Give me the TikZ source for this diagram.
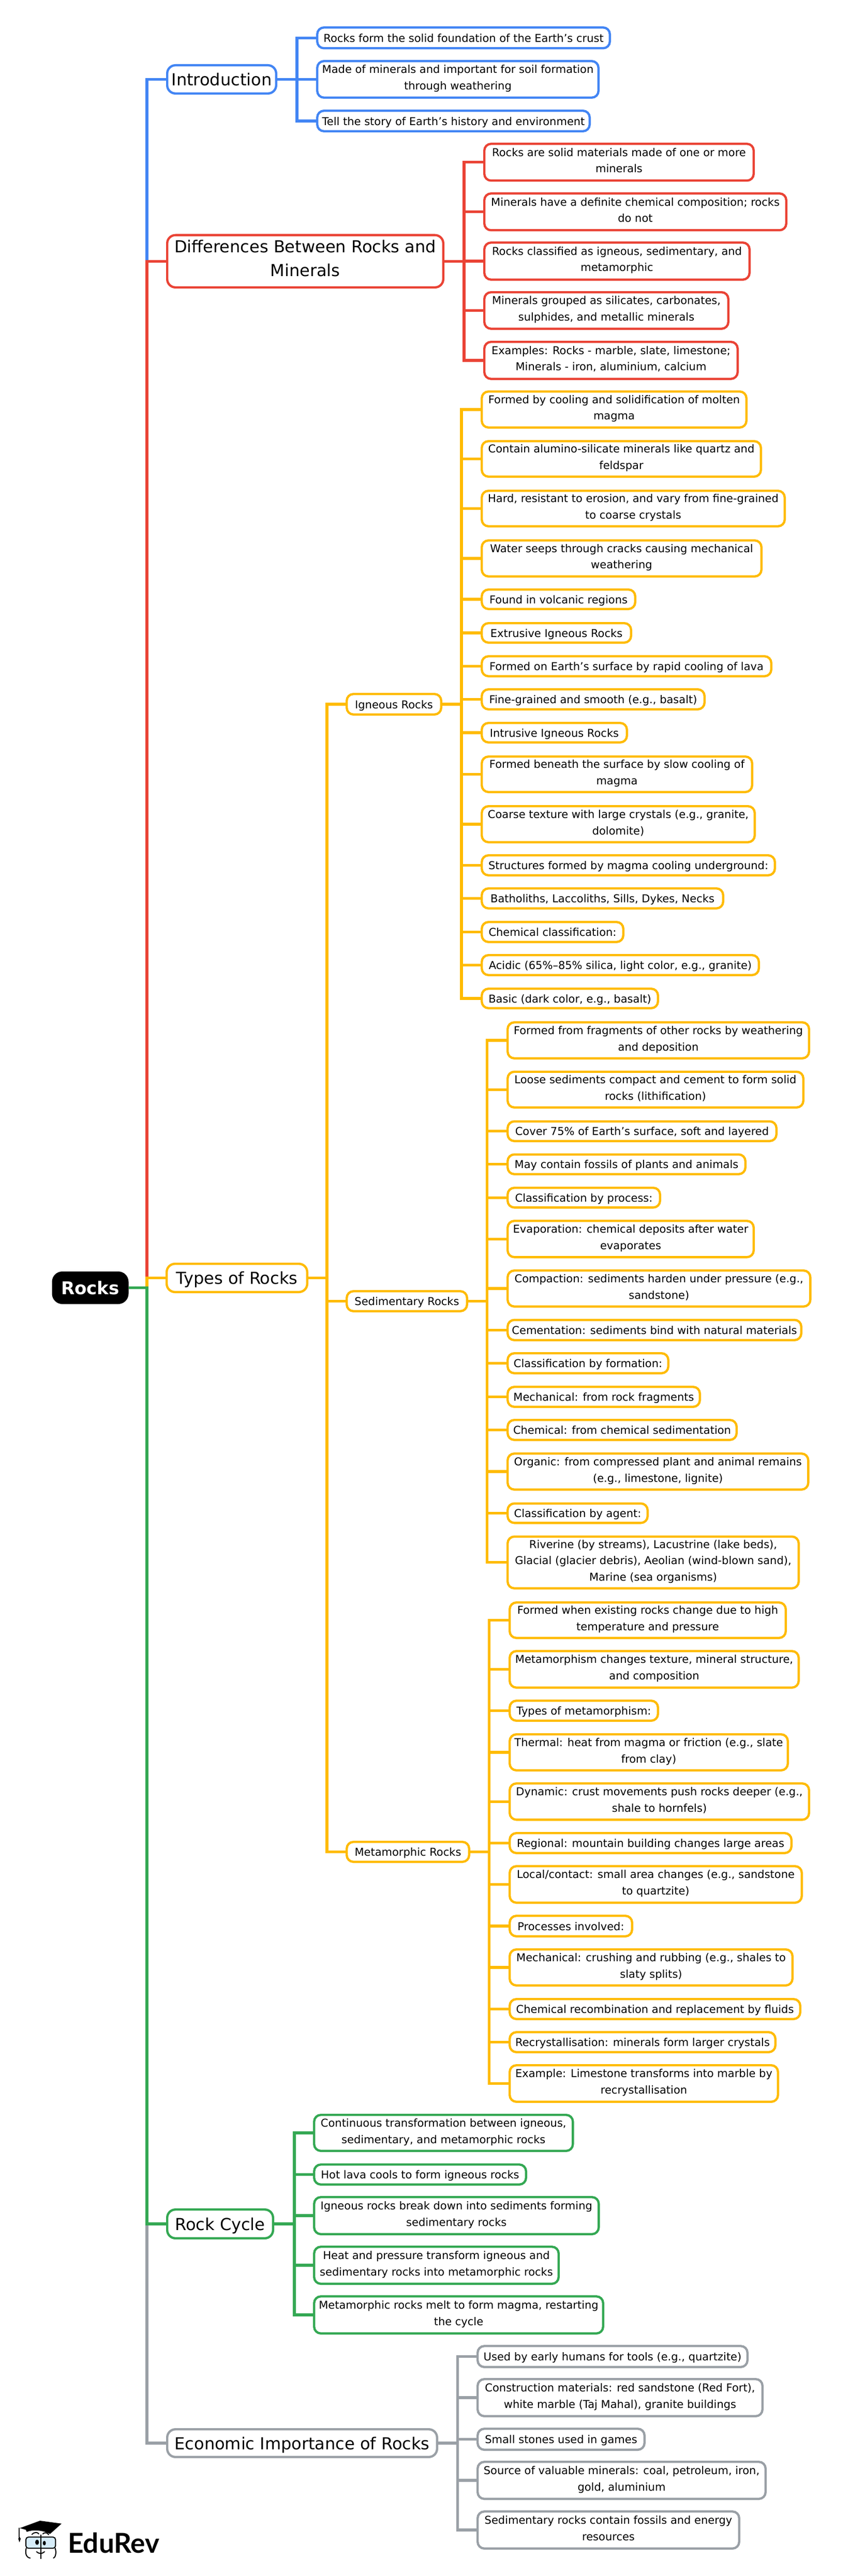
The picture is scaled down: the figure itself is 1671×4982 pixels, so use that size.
\documentclass[tikz,border=0pt]{standalone}
\usepackage{fontspec}
\setmainfont{DejaVu Sans}
\newfontfamily\brandfont{Lato}
\definecolor{cblue}{HTML}{4285F4}
\definecolor{cred}{HTML}{EA4335}
\definecolor{cyel}{HTML}{FFBB00}
\definecolor{cgrn}{HTML}{34A853}
\definecolor{cgry}{HTML}{9AA0A6}
\definecolor{lens}{HTML}{D6ECF8}
\newcommand{\tstrut}{\vrule width 0pt height .76\baselineskip depth .24\baselineskip\relax}
\tikzset{
  bx/.style={draw=#1,line width=2.2pt,rounded corners=6.5pt,fill=white,inner sep=0pt,align=center,
    font=\fontsize{10.5pt}{15.8pt}\selectfont,execute at begin node=\tstrut,execute at end node=\tstrut},
  big/.style={font=\fontsize{16pt}{23pt}\selectfont,rounded corners=8pt},
  cn/.style={draw=#1,line width=2.7pt,line join=miter},
  rootbox/.style={fill=black,text=white,inner sep=0pt,rounded corners=10pt,font=\fontsize{17pt}{23pt}\selectfont\bfseries},
  logoline/.style={draw=black,line width=1pt,line cap=round}
}
% #1 name, #2 x1, #3 y1, #4 x2, #5 y2, #6 colour, #7 extra style, #8 text
\newcommand{\bxn}[8]{%
  \pgfmathsetmacro{\boxw}{(#4-#2-4.4)*0.5}\pgfmathsetmacro{\boxh}{(#5-#3-4.4)*0.5}%
  \node[bx=#6,#7,minimum width=\boxw pt,minimum height=\boxh pt] (#1) at ({(#2+#4)/2},{(#3+#5)/2}) {#8};}
% #1 parent, #2 stem x, #3 colour, #4 children list
\newcommand{\conns}[4]{%
  \foreach \kid in {#4}{\draw[cn=#3] (#1.east) -- (#1.east -| #2,0) |- (\kid.west);}}
\begin{document}
\begin{tikzpicture}[x=0.5pt,y=-0.5pt]
\useasboundingbox[fill=white] (0,0) rectangle (1671,4982);
% level-1 nodes and leaves
\node[rootbox,minimum width=74pt,minimum height=31.5pt] (rocks) at (174.5,2490.5) {Rocks};
\bxn{intro}{321}{124}{536}{183}{cblue}{big}{Introduction}
\bxn{diff}{321}{452.5}{859}{558}{cred}{big}{Differences Between Rocks and\\Minerals}
\bxn{types}{320}{2442}{596}{2501}{cyel}{big}{Types of Rocks}
\bxn{cycle}{321}{4271}{530}{4331}{cgrn}{big}{Rock Cycle}
\bxn{econ}{321}{4696}{847}{4754}{cgry}{big}{Economic Importance of Rocks}
\bxn{ign}{668}{1340}{855}{1384}{cyel}{}{Igneous Rocks}
\bxn{sed}{668}{2495}{905}{2538}{cyel}{}{Sedimentary Rocks}
\bxn{met}{668}{3560}{909}{3603}{cyel}{}{Metamorphic Rocks}
% Introduction
\bxn{i1}{611}{51}{1181}{95.5}{cblue}{}{Rocks form the solid foundation of the Earth’s crust}
\bxn{i2}{611}{116}{1159}{191}{cblue}{}{Made of minerals and important for soil formation\\through weathering}
\bxn{i3}{611}{212}{1142}{256}{cblue}{}{Tell the story of Earth’s history and environment}
% Differences
\bxn{d1}{934}{276}{1459}{351.5}{cred}{}{Rocks are solid materials made of one or more\\minerals}
\bxn{d2}{934}{372}{1522}{447.5}{cred}{}{Minerals have a definite chemical composition; rocks\\do not}
\bxn{d3}{934}{467}{1451}{543}{cred}{}{Rocks classified as igneous, sedimentary, and\\metamorphic}
\bxn{d4}{934}{563}{1410}{638}{cred}{}{Minerals grouped as silicates, carbonates,\\sulphides, and metallic minerals}
\bxn{d5}{934}{659}{1428}{735}{cred}{}{Examples: Rocks - marble, slate, limestone;\\Minerals - iron, aluminium, calcium}
% Igneous
\bxn{g1}{929}{755}{1445}{829}{cyel}{}{Formed by cooling and solidification of molten\\magma}
\bxn{g2}{929}{851}{1473}{924}{cyel}{}{Contain alumino-silicate minerals like quartz and\\feldspar}
\bxn{g3}{929}{947}{1519}{1020}{cyel}{}{Hard, resistant to erosion, and vary from fine-grained\\to coarse crystals}
\bxn{g4}{929}{1043}{1474}{1117}{cyel}{}{Water seeps through cracks causing mechanical\\weathering}
\bxn{g5}{929}{1138}{1230}{1180}{cyel}{}{Found in volcanic regions}
\bxn{g6}{929}{1203}{1222}{1245}{cyel}{}{Extrusive Igneous Rocks}
\bxn{g7}{929}{1267}{1493}{1310}{cyel}{}{Formed on Earth’s surface by rapid cooling of lava}
\bxn{g8}{929}{1331}{1364}{1374}{cyel}{}{Fine-grained and smooth (e.g., basalt)}
\bxn{g9}{929}{1396}{1214}{1438}{cyel}{}{Intrusive Igneous Rocks}
\bxn{g10}{929}{1461}{1456}{1534}{cyel}{}{Formed beneath the surface by slow cooling of\\magma}
\bxn{g11}{929}{1557}{1461}{1631}{cyel}{}{Coarse texture with large crystals (e.g., granite,\\dolomite)}
\bxn{g12}{929}{1652}{1500}{1695}{cyel}{}{Structures formed by magma cooling underground:}
\bxn{g13}{929}{1716}{1400}{1759}{cyel}{}{Batholiths, Laccoliths, Sills, Dykes, Necks}
\bxn{g14}{929}{1781}{1207}{1824}{cyel}{}{Chemical classification:}
\bxn{g15}{929}{1845}{1469}{1888}{cyel}{}{Acidic (65\%–85\% silica, light color, e.g., granite)}
\bxn{g16}{929}{1910}{1274}{1952}{cyel}{}{Basic (dark color, e.g., basalt)}
% Sedimentary
\bxn{s1}{979}{1975}{1566}{2049}{cyel}{}{Formed from fragments of other rocks by weathering\\and deposition}
\bxn{s2}{979}{2070.5}{1555}{2144}{cyel}{}{Loose sediments compact and cement to form solid\\rocks (lithification)}
\bxn{s3}{979}{2166.5}{1503}{2209}{cyel}{}{Cover 75\% of Earth’s surface, soft and layered}
\bxn{s4}{979}{2230.5}{1443}{2273}{cyel}{}{May contain fossils of plants and animals}
\bxn{s5}{979}{2295}{1278}{2337.5}{cyel}{}{Classification by process:}
\bxn{s6}{979}{2359}{1459}{2433.5}{cyel}{}{Evaporation: chemical deposits after water\\evaporates}
\bxn{s7}{979}{2455}{1568.5}{2529}{cyel}{}{Compaction: sediments harden under pressure (e.g.,\\sandstone)}
\bxn{s8}{979}{2550.5}{1551}{2594}{cyel}{}{Cementation: sediments bind with natural materials}
\bxn{s9}{979}{2615}{1294}{2658}{cyel}{}{Classification by formation:}
\bxn{s10}{979}{2680}{1355}{2723}{cyel}{}{Mechanical: from rock fragments}
\bxn{s11}{979}{2744}{1426}{2787}{cyel}{}{Chemical: from chemical sedimentation}
\bxn{s12}{979}{2809}{1564.5}{2883}{cyel}{}{Organic: from compressed plant and animal remains\\(e.g., limestone, lignite)}
\bxn{s13}{979}{2905.5}{1254}{2947.5}{cyel}{}{Classification by agent:}
\bxn{s14}{979}{2969.5}{1546}{3074}{cyel}{}{Riverine (by streams), Lacustrine (lake beds),\\Glacial (glacier debris), Aeolian (wind-blown sand),\\Marine (sea organisms)}
% Metamorphic
\bxn{m1}{983}{3097}{1521}{3170}{cyel}{}{Formed when existing rocks change due to high\\temperature and pressure}
\bxn{m2}{983}{3191}{1546}{3266}{cyel}{}{Metamorphism changes texture, mineral structure,\\and composition}
\bxn{m3}{983}{3287}{1274}{3330}{cyel}{}{Types of metamorphism:}
\bxn{m4}{983}{3352}{1525}{3426}{cyel}{}{Thermal: heat from magma or friction (e.g., slate\\from clay)}
\bxn{m5}{983}{3447}{1566}{3521.5}{cyel}{}{Dynamic: crust movements push rocks deeper (e.g.,\\shale to hornfels)}
\bxn{m6}{983}{3543}{1532}{3586}{cyel}{}{Regional: mountain building changes large areas}
\bxn{m7}{983}{3607}{1552}{3682}{cyel}{}{Local/contact: small area changes (e.g., sandstone\\to quartzite)}
\bxn{m8}{983}{3703}{1224}{3747}{cyel}{}{Processes involved:}
\bxn{m9}{983}{3768}{1534}{3842}{cyel}{}{Mechanical: crushing and rubbing (e.g., shales to\\slaty splits)}
\bxn{m10}{983}{3864}{1549}{3907}{cyel}{}{Chemical recombination and replacement by fluids}
\bxn{m11}{983}{3928}{1501}{3971}{cyel}{}{Recrystallisation: minerals form larger crystals}
\bxn{m12}{983}{3992}{1506}{4067}{cyel}{}{Example: Limestone transforms into marble by\\recrystallisation}
% Rock cycle
\bxn{r1}{605}{4088}{1109.5}{4162}{cgrn}{}{Continuous transformation between igneous,\\sedimentary, and metamorphic rocks}
\bxn{r2}{605}{4184}{1019}{4227}{cgrn}{}{Hot lava cools to form igneous rocks}
\bxn{r3}{605}{4247}{1159.5}{4323}{cgrn}{}{Igneous rocks break down into sediments forming\\sedimentary rocks}
\bxn{r4}{605}{4343}{1082}{4419}{cgrn}{}{Heat and pressure transform igneous and\\sedimentary rocks into metamorphic rocks}
\bxn{r5}{605}{4439}{1168}{4515}{cgrn}{}{Metamorphic rocks melt to form magma, restarting\\the cycle}
% Economic
\bxn{e1}{921}{4535}{1447}{4580}{cgry}{}{Used by early humans for tools (e.g., quartzite)}
\bxn{e2}{921}{4599}{1476}{4675}{cgry}{}{Construction materials: red sandstone (Red Fort),\\white marble (Taj Mahal), granite buildings}
\bxn{e3}{921}{4695}{1248}{4740}{cgry}{}{Small stones used in games}
\bxn{e4}{921}{4759}{1482}{4835}{cgry}{}{Source of valuable minerals: coal, petroleum, iron,\\gold, aluminium}
\bxn{e5}{921}{4855}{1431}{4931}{cgry}{}{Sedimentary rocks contain fossils and energy\\resources}
% connectors
\conns{rocks}{284}{cblue}{intro}
\conns{rocks}{284}{cred}{diff}
\conns{rocks}{284}{cyel}{types}
\conns{rocks}{284}{cgry}{econ}
\conns{rocks}{284}{cgrn}{cycle}
\conns{intro}{574}{cblue}{i1,i2,i3}
\conns{diff}{897}{cred}{d1,d2,d3,d4,d5}
\conns{types}{632}{cyel}{ign,sed,met}
\conns{ign}{892}{cyel}{g1,g2,g3,g4,g5,g6,g7,g8,g9,g10,g11,g12,g13,g14,g15,g16}
\conns{sed}{941.5}{cyel}{s1,s2,s3,s4,s5,s6,s7,s8,s9,s10,s11,s12,s13,s14}
\conns{met}{945.5}{cyel}{m1,m2,m3,m4,m5,m6,m7,m8,m9,m10,m11,m12}
\conns{cycle}{569}{cgrn}{r1,r2,r3,r4,r5}
\conns{econ}{884.5}{cgry}{e1,e2,e3,e4,e5}
% logo
\node[anchor=base west,inner sep=0pt,font=\brandfont\bfseries\fontsize{26.5pt}{30pt}\selectfont] (brand) at (131,4937) {EduRev};
\begin{scope}[shift={(20,4860)},x=0.1667pt,y=-0.1667pt]
\fill[black] (55,88) -- (172,45) -- (297,62) -- (230,122) .. controls (190,100) and (130,95) .. (95,110) -- (90,98) -- cycle;
\draw[logoline] (52,88) -- (52,140);
\fill[black] (52,135) -- (60,150) -- (53,170) -- (46,150) -- cycle;
\draw[logoline,fill=lens,rounded corners=2.5pt] (90,140) rectangle (262,205);
\draw[logoline,rounded corners=3pt] (92,205) .. controls (85,230) and (90,258) .. (115,262);
\draw[logoline,rounded corners=3pt] (260,205) .. controls (268,230) and (262,258) .. (250,262);
\draw[logoline] (176,128) -- (176,265);
\draw[logoline] (125,125) .. controls (140,108) and (160,112) .. (165,122);
\draw[logoline] (188,122) .. controls (195,112) and (215,112) .. (222,126);
\fill[black] (155,170) ellipse [x radius=11,y radius=15];
\fill[black] (197,175) ellipse [x radius=9,y radius=13];
\draw[logoline] (152,225) .. controls (165,238) and (185,238) .. (198,225);
\end{scope}
\end{tikzpicture}
\end{document}
